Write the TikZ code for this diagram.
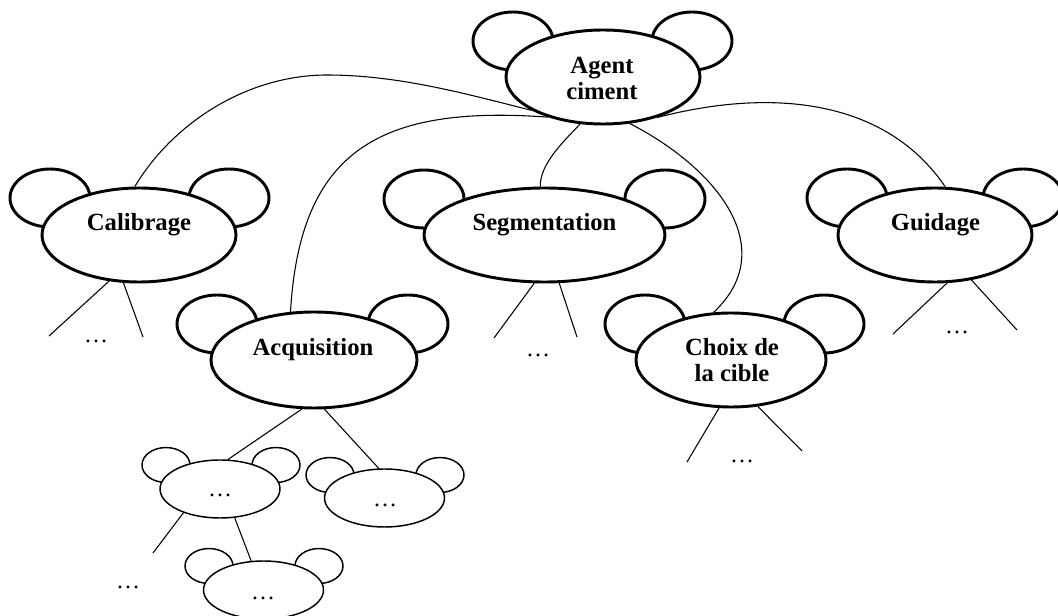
\documentclass[tikz,border=0pt]{standalone}
\usepackage{fontspec}
\setmainfont{Liberation Serif}
\usetikzlibrary{shapes.geometric,backgrounds}
\begin{document}
\begin{tikzpicture}[x=0.75pt,y=-0.75pt,
  big/.style={ellipse,draw,line width=2.2pt,fill=white,inner sep=0pt,minimum height=70.5pt},
  small/.style={ellipse,draw,line width=1.1pt,fill=white,inner sep=0pt,minimum width=90pt,minimum height=43.5pt},
  bigear/.style={draw,line width=2.2pt,fill=white},
  smallear/.style={draw,line width=1.1pt,fill=white},
  lbl/.style={font=\fontsize{18.5}{20}\selectfont\bfseries,inner sep=0pt,anchor=base,align=center},
  dotlbl/.style={font=\fontsize{18}{20}\selectfont,inner sep=0pt,anchor=base},
  link/.style={line width=0.8pt}]
\useasboundingbox (0,0) rectangle (1058,616);

% ears
\draw[bigear] (513,41) ellipse [x radius=30pt, y radius=21.75pt];
\draw[bigear] (692,41) ellipse [x radius=30pt, y radius=21.75pt];
\draw[bigear] (50,198) ellipse [x radius=30pt, y radius=21.75pt];
\draw[bigear] (229,198) ellipse [x radius=30pt, y radius=21.75pt];
\draw[bigear] (424,199) ellipse [x radius=30pt, y radius=21.75pt];
\draw[bigear] (665,199) ellipse [x radius=30pt, y radius=21.75pt];
\draw[bigear] (847,198) ellipse [x radius=30pt, y radius=21.75pt];
\draw[bigear] (1023,198) ellipse [x radius=30pt, y radius=21.75pt];
\draw[bigear] (217,324) ellipse [x radius=30pt, y radius=21.75pt];
\draw[bigear] (408,324) ellipse [x radius=30pt, y radius=21.75pt];
\draw[bigear] (645,324) ellipse [x radius=30pt, y radius=21.75pt];
\draw[bigear] (824,324) ellipse [x radius=30pt, y radius=21.75pt];
\draw[smallear] (166,465) ellipse [x radius=18pt, y radius=13.1pt];
\draw[smallear] (276,465) ellipse [x radius=18pt, y radius=13.1pt];
\draw[smallear] (330,475) ellipse [x radius=18pt, y radius=13.1pt];
\draw[smallear] (440,475) ellipse [x radius=18pt, y radius=13.1pt];
\draw[smallear] (209,566) ellipse [x radius=18pt, y radius=13.1pt];
\draw[smallear] (319,566) ellipse [x radius=18pt, y radius=13.1pt];

% bodies
\node[big,minimum width=145.5pt] (agent) at (603,77) {};
\node[big,minimum width=145.5pt] (cal) at (139,235) {};
\node[big,minimum width=180.75pt] (seg) at (544.5,235) {};
\node[big,minimum width=145.5pt] (gui) at (935,235) {};
\node[big,minimum width=154.5pt,minimum height=72pt] (acq) at (314,360) {};
\node[big,minimum width=142.5pt] (cho) at (731,360) {};
\node[small] (s1) at (220,489) {};
\node[small] (s2) at (384.5,498) {};
\node[small] (s3) at (263.5,590) {};

% labels (base = baseline of last line)
\node[lbl] (agentT) at (602,100) {Agent\\ciment};
\node[lbl] (calT) at (139,231) {Calibrage};
\node[lbl] (segT) at (544.5,231) {Segmentation};
\node[lbl] (guiT) at (935.5,231) {Guidage};
\node[lbl] (acqT) at (313,356) {Acquisition};
\node[lbl] (choT) at (732,382) {Choix de\\la cible};

\node[dotlbl] (d1) at (96,343) {…};
\node[dotlbl] (d2) at (538,357) {…};
\node[dotlbl] (d3) at (957,334) {…};
\node[dotlbl] (d4) at (742,463) {…};
\node[dotlbl] (d5) at (220,497) {…};
\node[dotlbl] (d6) at (385,507) {…};
\node[dotlbl] (d7) at (263,600) {…};
\node[dotlbl] (d8) at (128,589) {…};

% free ends
\coordinate (e1) at (49,336);
\coordinate (e2) at (143,337);
\coordinate (e3) at (494,338);
\coordinate (e4) at (577,337);
\coordinate (e5) at (893,334);
\coordinate (e6) at (1017,330);
\coordinate (e7) at (687,462);
\coordinate (e8) at (802,451);
\coordinate (e9) at (153,553);

\begin{pgfonlayer}{background}
\draw[link] (cal.95) .. controls (175,120) and (250,75) .. (327,75) .. controls (400,75) and (470,95) .. (agent.205);
\draw[link] (acq.116) .. controls (300,150) and (380,105) .. (agent.216);
\draw[link] (agent.244) .. controls (560,145) and (540,165) .. (seg.95);
\draw[link] (agent.300) .. controls (720,170) and (780,250) .. (cho.110);
\draw[link] (agent.323) .. controls (770,88) and (885,98) .. (gui.78);
\draw[link] (cal.237) -- (e1);
\draw[link] (cal.252) -- (e2);
\draw[link] (seg.258) -- (e3);
\draw[link] (seg.287) -- (e4);
\draw[link] (gui.284) -- (e5);
\draw[link] (gui.309) -- (e6);
\draw[link] (cho.256) -- (e7);
\draw[link] (cho.300) -- (e8);
\draw[link] (acq.256) -- (s1.75);
\draw[link] (acq.282) -- (s2.101);
\draw[link] (s1.213) -- (e9);
\draw[link] (s1.297) -- (s3.113);
\end{pgfonlayer}
\end{tikzpicture}
\end{document}
